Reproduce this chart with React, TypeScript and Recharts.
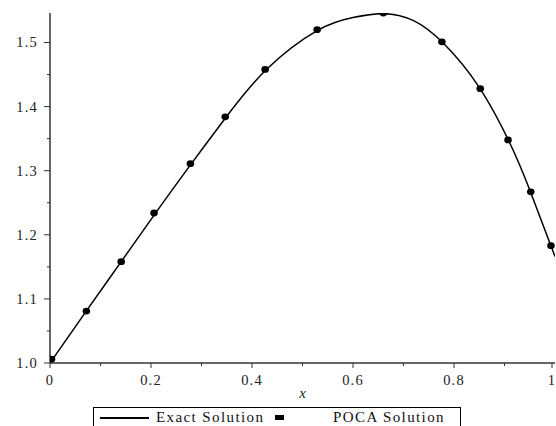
import React from 'react';
import { ComposedChart, Line, Scatter, XAxis, YAxis } from 'recharts';

// exact solution curve
const exactX = [0, 0.07, 0.14, 0.21, 0.28, 0.35, 0.43, 0.53, 0.6, 0.66, 0.72, 0.78, 0.85, 0.91, 0.95, 1.0];
const exactY = [1.0, 1.079, 1.157, 1.235, 1.311, 1.385, 1.459, 1.519, 1.539, 1.545, 1.534, 1.498, 1.430, 1.344, 1.270, 1.166];

// POCA solution points
const pocaX = [0.003, 0.072, 0.141, 0.206, 0.278, 0.347, 0.426, 0.529, 0.66, 0.776, 0.852, 0.907, 0.952, 0.992];
const pocaY = [1.006, 1.081, 1.158, 1.234, 1.311, 1.384, 1.458, 1.520, 1.546, 1.501, 1.428, 1.348, 1.267, 1.183];

const xTicks = [0, 0.1, 0.2, 0.3, 0.4, 0.5, 0.6, 0.7, 0.8, 0.9, 1];
const xLabels = ['0', '0.2', '0.4', '0.6', '0.8', '1'];
const yTicks = [1.0, 1.05, 1.1, 1.15, 1.2, 1.25, 1.3, 1.35, 1.4, 1.45, 1.5];
const yLabels = ['1.0', '1.1', '1.2', '1.3', '1.4', '1.5'];

const exactData = exactX.map((x, i) => ({ x, y: exactY[i] }));
const pocaData = pocaX.map((x, i) => ({ x, y: pocaY[i] }));

const font = 'Liberation Serif, Times New Roman, serif';
const axisColor = '#333';
const textColor = '#222';

const XTick = (props: any) => {
    const { x, y, payload } = props;
    const idx = Math.round(payload.value * 10);
    const major = idx % 2 === 0;
    return (
        <g>
            <line x1={x} x2={x} y1={y} y2={y + (major ? 5 : 3)} stroke={axisColor} strokeWidth={1} />
            {major && (
                <text x={x} y={y + 22} textAnchor="middle" fontFamily={font} fontSize={14.5} letterSpacing={1.2} fill={textColor}>
                    {xLabels[idx / 2]}
                </text>
            )}
        </g>
    );
};

const YTick = (props: any) => {
    const { x, y, payload } = props;
    const idx = Math.round((payload.value - 1) * 20);
    const major = idx % 2 === 0;
    return (
        <g>
            <line x1={x - (major ? 6 : 3)} x2={x} y1={y} y2={y} stroke={axisColor} strokeWidth={1} />
            {major && (
                <text x={x - 12} y={y + 5} textAnchor="end" fontFamily={font} fontSize={14.5} letterSpacing={1.2} fill={textColor}>
                    {yLabels[idx / 2]}
                </text>
            )}
        </g>
    );
};

const Dot = (props: any) => {
    const { cx, cy } = props;
    return <ellipse cx={cx} cy={cy} rx={3.8} ry={3.4} fill="#000" />;
};

export default function App() {
    return (
        <div style={{ position: 'absolute', left: 0, top: 0, width: 556, height: 426, background: '#fff', overflow: 'hidden' }}>
            <ComposedChart width={556} height={426} margin={{ top: 13, right: 1, left: 0, bottom: 0 }}>
                <XAxis
                    type="number"
                    dataKey="x"
                    domain={[0, 1]}
                    ticks={xTicks}
                    tick={<XTick />}
                    tickLine={false}
                    tickSize={0}
                    tickMargin={0}
                    height={63}
                    axisLine={{ stroke: axisColor, strokeWidth: 1.5 }}
                    allowDataOverflow
                    label={{ value: 'x', position: 'insideBottom', offset: 28, fontFamily: font, fontStyle: 'italic', fontSize: 15, fill: textColor }}
                />
                <YAxis
                    type="number"
                    dataKey="y"
                    domain={[1, 1.546]}
                    ticks={yTicks}
                    tick={<YTick />}
                    tickLine={false}
                    tickSize={0}
                    tickMargin={0}
                    width={50}
                    axisLine={{ stroke: axisColor, strokeWidth: 1.5 }}
                    allowDataOverflow
                />
                <Line
                    data={exactData}
                    dataKey="y"
                    type="natural"
                    stroke="#000"
                    strokeWidth={1.5}
                    dot={false}
                    activeDot={false}
                    isAnimationActive={false}
                />
                <Scatter data={pocaData} dataKey="y" fill="#000" shape={<Dot />} isAnimationActive={false} />
            </ComposedChart>
            <div style={{
                position: 'absolute', left: 93, top: 407, width: 368, height: 30,
                border: '1px solid #000', boxSizing: 'border-box', fontFamily: font, fontSize: 15,
                letterSpacing: 1.4, color: '#111',
            }}>
                <div style={{ position: 'absolute', left: 6, top: 9, width: 49, height: 2, background: '#000' }} />
                <span style={{ position: 'absolute', left: 62, top: 0, lineHeight: '18px' }}>Exact Solution</span>
                <div style={{ position: 'absolute', left: 181, top: 7, width: 9, height: 5, background: '#000' }} />
                <span style={{ position: 'absolute', left: 239, top: 0, lineHeight: '18px' }}>POCA Solution</span>
            </div>
        </div>
    );
}
